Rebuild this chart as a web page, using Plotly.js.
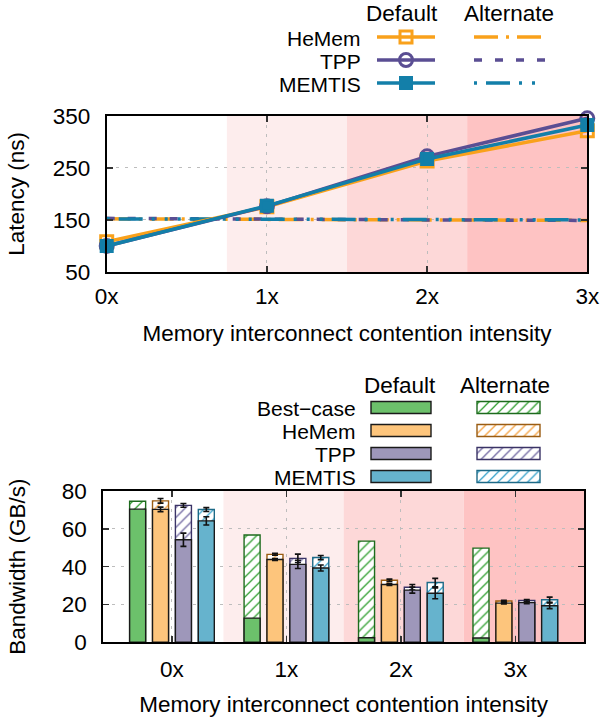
<!DOCTYPE html>
<html><head><meta charset="utf-8">
<script src="https://cdn.plot.ly/plotly-3.0.1.min.js"></script>
<style>html,body{margin:0;padding:0;background:#fff}#chart{width:600px;height:717px}</style>
</head><body><div id="chart"></div>
<script>
// ---------- data ----------
const contention = ['0x', '1x', '2x', '3x'];
const contentionX = [0, 1, 2, 3];

// Latency (ns)
const latMethods = ['HeMem', 'TPP', 'MEMTIS'];
const latHeMemDefault = [108, 175, 263, 321];
const latTPPDefault = [100, 176, 272, 345];
const latMEMTISDefault = [100, 177, 267, 332];
const latHeMemAlternate = [152, 151, 150, 149];
const latTPPAlternate = [153, 151, 150, 149];
const latMEMTISAlternate = [152, 151, 150, 150];

// Bandwidth (GB/s)
const bwMethods = ['Best\u2212case', 'HeMem', 'TPP', 'MEMTIS'];
const bwBestDefault = [70.4, 12.8, 2.4, 2.3];
const bwHeMemDefault = [70.3, 43.8, 30.6, 20.7];
const bwTPPDefault = [54.2, 41.2, 27.6, 21.0];
const bwMEMTISDefault = [64.2, 39.3, 25.9, 19.3];
const bwBestAlternate = [74.6, 56.7, 53.5, 49.8];
const bwHeMemAlternate = [74.8, 46.5, 32.8, 21.8];
const bwTPPAlternate = [72.4, 44.4, 29.1, 22.1];
const bwMEMTISAlternate = [70.2, 44.8, 31.6, 22.5];
const bwBestDefaultErr = [0, 0, 0, 0];
const bwHeMemDefaultErr = [1.2, 0.5, 0.5, 0.4];
const bwTPPDefaultErr = [3.5, 2.2, 1.6, 0.6];
const bwMEMTISDefaultErr = [2.2, 1.6, 2.9, 1.5];
const bwBestAlternateErr = [0, 0, 0, 0];
const bwHeMemAlternateErr = [1.2, 0.5, 0.6, 0.4];
const bwTPPAlternateErr = [1.0, 2.2, 1.5, 0.5];
const bwMEMTISAlternateErr = [1.0, 1.1, 2.2, 1.4];

// ---------- styles ----------
const FONT = 'Liberation Sans, Arial, Helvetica, sans-serif';
const FS = 22.5;
const FS_KEY = 21;
const lineColors = ['#f9a11b', '#5a4e93', '#137fa9'];
const lineSymbols = ['square-open', 'circle-open', 'square'];
const lineSymSize = [12, 13, 11];
const altDash = ['24px,8px,3px,8px', '8px,13px', '3px,9px,24px,9px,3px,10px,3px,10px'];
const barColors = ['#6cc16b', '#fdc57c', '#9e97ba', '#66b3cd'];
const hatchColors = ['#2f9f2f', '#f6a03c', '#6e65a0', '#35a2cb'];
const altOutline = ['#1d6b1d', '#9a5c12', '#3a3366', '#1d6a87'];
const barCenters = [-0.3, -0.1, 0.1, 0.3];
const barW = 0.14;

const latDefault = [latHeMemDefault, latTPPDefault, latMEMTISDefault];
const latAlternate = [latHeMemAlternate, latTPPAlternate, latMEMTISAlternate];
const bwDefault = [bwBestDefault, bwHeMemDefault, bwTPPDefault, bwMEMTISDefault];
const bwAlternate = [bwBestAlternate, bwHeMemAlternate, bwTPPAlternate, bwMEMTISAlternate];
const bwDefaultErr = [bwBestDefaultErr, bwHeMemDefaultErr, bwTPPDefaultErr, bwMEMTISDefaultErr];
const bwAlternateErr = [bwBestAlternateErr, bwHeMemAlternateErr, bwTPPAlternateErr, bwMEMTISAlternateErr];

const traces = [];
// latency alternate lines
latMethods.forEach((m, i) => {
  traces.push({
    type: 'scatter', mode: 'lines', x: contentionX, y: latAlternate[i],
    xaxis: 'x', yaxis: 'y', name: m + ' alt', showlegend: false,
    line: {color: lineColors[i], width: 3.5, dash: altDash[i]}, cliponaxis: false
  });
});
// latency default lines
latMethods.forEach((m, i) => {
  traces.push({
    type: 'scatter', mode: 'lines+markers', x: contentionX, y: latDefault[i],
    xaxis: 'x', yaxis: 'y', name: m, showlegend: false,
    line: {color: lineColors[i], width: 3.5},
    marker: {symbol: lineSymbols[i], size: lineSymSize[i], color: lineColors[i], line: {color: lineColors[i], width: 3}},
    cliponaxis: false
  });
});
// bandwidth bars
bwMethods.forEach((m, i) => {
  const hasErr = bwAlternateErr[i].some(v => v > 0);
  traces.push({
    type: 'bar', x: contentionX, y: bwAlternate[i], xaxis: 'x2', yaxis: 'y2',
    name: m + ' alt', showlegend: false, width: barW, offset: barCenters[i] - barW / 2,
    marker: {color: '#ffffff', line: {color: altOutline[i], width: 1.4},
      pattern: {shape: '/', fgcolor: hatchColors[i], bgcolor: '#ffffff', size: 7, solidity: 0.18, fillmode: 'replace'}},
    error_y: {type: 'data', array: bwAlternateErr[i], visible: hasErr, color: '#111', thickness: 1.6, width: 3}
  });
});
bwMethods.forEach((m, i) => {
  const hasErr = bwDefaultErr[i].some(v => v > 0);
  traces.push({
    type: 'bar', x: contentionX, y: bwDefault[i], xaxis: 'x2', yaxis: 'y2',
    name: m, showlegend: false, width: barW, offset: barCenters[i] - barW / 2,
    marker: {color: barColors[i], line: {color: '#1a1a1a', width: 1.4}},
    error_y: {type: 'data', array: bwDefaultErr[i], visible: hasErr, color: '#111', thickness: 1.6, width: 3}
  });
});

// ---------- custom legend keys (pixel-space overlay axis) ----------
const topRows = [37, 60, 83];
const topDefX = [377, 406, 435];
const topAltX = [474, 545];
latMethods.forEach((m, i) => {
  traces.push({
    type: 'scatter', mode: 'lines+markers', x: topDefX, y: [topRows[i], topRows[i], topRows[i]],
    xaxis: 'x3', yaxis: 'y3', showlegend: false, hoverinfo: 'skip', cliponaxis: false,
    line: {color: lineColors[i], width: 3.5},
    marker: {symbol: lineSymbols[i], size: lineSymSize[i], color: lineColors[i], opacity: [0, 1, 0],
      line: {color: lineColors[i], width: 3}}
  });
  traces.push({
    type: 'scatter', mode: 'lines', x: topAltX, y: [topRows[i], topRows[i]],
    xaxis: 'x3', yaxis: 'y3', showlegend: false, hoverinfo: 'skip', cliponaxis: false,
    line: {color: lineColors[i], width: 3.5, dash: altDash[i]}
  });
});
const botRows = [407.5, 430.5, 453.5, 476.5];
const botDef = [371, 60];
const botAlt = [477, 63];
bwMethods.forEach((m, i) => {
  traces.push({
    type: 'bar', orientation: 'h', y: [botRows[i]], x: [botDef[1]], base: [botDef[0]], width: 12,
    xaxis: 'x3', yaxis: 'y3', showlegend: false, hoverinfo: 'skip',
    marker: {color: barColors[i], line: {color: '#1a1a1a', width: 1.4}}
  });
  traces.push({
    type: 'bar', orientation: 'h', y: [botRows[i]], x: [botAlt[1]], base: [botAlt[0]], width: 12,
    xaxis: 'x3', yaxis: 'y3', showlegend: false, hoverinfo: 'skip',
    marker: {color: '#ffffff', line: {color: altOutline[i], width: 1.4},
      pattern: {shape: '/', fgcolor: hatchColors[i], bgcolor: '#ffffff', size: 7, solidity: 0.18, fillmode: 'replace'}}
  });
});

const annotations = [];
function label(text, x, y, xanchor, size) {
  annotations.push({text: text, x: x, y: y, xref: 'x3', yref: 'y3', xanchor: xanchor, yanchor: 'middle',
    showarrow: false, font: {family: FONT, size: size, color: '#000'}});
}
label('Default', 402, 13, 'center', FS);
label('Alternate', 509, 13, 'center', FS);
latMethods.forEach((m, i) => label(m, 363, topRows[i] + 1, 'right', FS_KEY));
label('Default', 400, 385, 'center', FS);
label('Alternate', 505, 385, 'center', FS);
bwMethods.forEach((m, i) => label(m, 358, botRows[i] + 1, 'right', FS_KEY));

// background contention shading
const shadeColors = ['rgba(0,0,0,0)', '#fdeded', '#fdd8d8', '#fec3c3'];
const shapes = [];
['x', 'x2'].forEach((xa, k) => {
  const ya = k === 0 ? 'y' : 'y2';
  for (let q = 1; q < 4; q++) {
    shapes.push({type: 'rect', xref: xa + ' domain', yref: ya + ' domain', x0: q / 4, x1: (q + 1) / 4, y0: 0, y1: 1,
      fillcolor: shadeColors[q], line: {width: 0}, layer: 'below'});
  }
});

const axisCommon = {
  showline: true, linecolor: '#000', linewidth: 2, mirror: 'allticks',
  ticks: 'inside', ticklen: 6, tickwidth: 1.5, tickcolor: '#333',
  showgrid: true, gridcolor: '#bdbdbd', gridwidth: 1, griddash: '3px,6px',
  zeroline: false, automargin: false, fixedrange: true,
  tickfont: {family: FONT, size: FS, color: '#000'}
};

const layout = {
  width: 600, height: 717, margin: {l: 0, r: 0, t: 0, b: 0},
  paper_bgcolor: '#fff', plot_bgcolor: 'rgba(0,0,0,0)',
  font: {family: FONT, size: FS, color: '#000'},
  barmode: 'overlay', showlegend: false,
  xaxis: Object.assign({}, axisCommon, {
    domain: [106.7 / 600, 587.3 / 600], anchor: 'y', range: [0, 3],
    tickvals: contentionX, ticktext: contention, ticklabelstandoff: 3,
    title: {text: 'Memory interconnect contention intensity', font: {family: FONT, size: FS}, standoff: 17}
  }),
  yaxis: Object.assign({}, axisCommon, {
    domain: [1 - 272 / 717, 1 - 115.7 / 717], anchor: 'x', range: [50, 350],
    tickvals: [50, 150, 250, 350], ticklabelstandoff: 10,
    title: {text: 'Latency (ns)', font: {family: FONT, size: FS}, standoff: 22}
  }),
  xaxis2: Object.assign({}, axisCommon, {
    domain: [103.3 / 600, 584 / 600], anchor: 'y2', range: [-0.6, 3.6],
    tickvals: contentionX, ticktext: contention, ticklabelstandoff: 6,
    title: {text: 'Memory interconnect contention intensity', font: {family: FONT, size: FS}, standoff: 15}
  }),
  yaxis2: Object.assign({}, axisCommon, {
    domain: [1 - 642.3 / 717, 1 - 491 / 717], anchor: 'x2', range: [0, 80],
    tickvals: [0, 20, 40, 60, 80], ticklabelstandoff: 10,
    title: {text: 'Bandwidth (GB/s)', font: {family: FONT, size: FS}, standoff: 30}
  }),
  xaxis3: {domain: [0, 1], range: [0, 600], visible: false, fixedrange: true, anchor: 'y3'},
  yaxis3: {domain: [0, 1], range: [717, 0], visible: false, fixedrange: true, anchor: 'x3'},
  annotations: annotations, shapes: shapes
};

Plotly.newPlot('chart', traces, layout, {staticPlot: true, displayModeBar: false});
</script></body></html>
